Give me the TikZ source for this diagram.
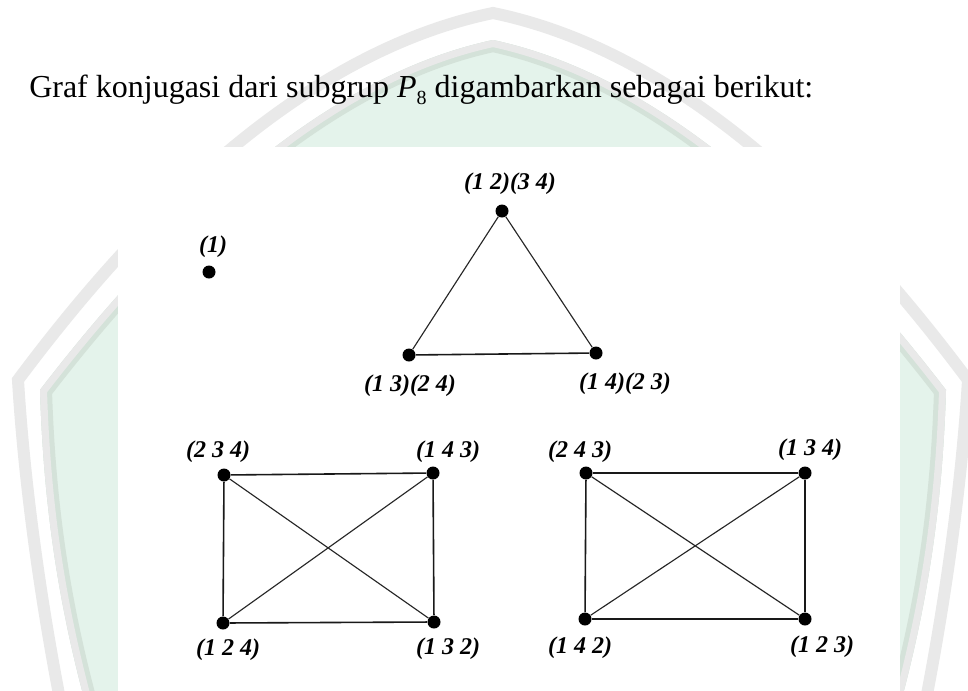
\documentclass[tikz,border=0pt]{standalone}
\usepackage{fontspec}
\setmainfont{Liberation Serif}
\definecolor{wmgrey}{RGB}{233,233,233}
\definecolor{wmgreen}{RGB}{228,243,235}
\definecolor{wmline}{RGB}{212,226,217}
\begin{document}
\begin{tikzpicture}[x=0.75pt,y=-0.75pt,
  dot/.style={circle,fill=black,inner sep=0pt,minimum size=9.75pt},
  lab/.style={font=\fontsize{18pt}{21pt}\selectfont\bfseries\itshape,inner sep=0pt},
  edge/.style={draw=black!85,line width=0.85pt},
  side/.style={draw=black!90,line width=1.2pt},
  title/.style={font=\fontsize{24pt}{28pt}\selectfont,inner sep=0pt,anchor=base west}]
\useasboundingbox (0,0) rectangle (968,690);
\fill[white] (0,0) rectangle (968,690);
% watermark
\draw[wmgrey,line width=9pt] (64,720) .. controls (40,600) and (24,480) .. (18,380)
  .. controls (176,168) and (334.7,45.7) .. (493,13)
  .. controls (651.3,45.7) and (810,168) .. (968,380)
  .. controls (962,480) and (946,600) .. (922,720);
\def\greenpath{(90,720) .. controls (62,620) and (44,520) .. (40,390)
  .. controls (195.3,188) and (346.7,71.3) .. (493,40)
  .. controls (639.3,71.3) and (790.7,188) .. (946,390)
  .. controls (942,520) and (924,620) .. (896,720) -- cycle}
\fill[wmgreen] \greenpath;
\begin{scope}
  \clip \greenpath;
  \draw[wmline,line width=18pt] \greenpath;
  \draw[wmgrey,line width=10.5pt] \greenpath;
\end{scope}
\fill[white] (118,147) rectangle (900,700);
% title
\node[title] (ttl) at (29,97) {Graf konjugasi dari subgrup \textit{P}\raisebox{-0.22em}{\fontsize{15pt}{15pt}\selectfont 8} digambarkan sebagai berikut:};
% dots
\node[dot] (n1) at (209,272) {};
\node[dot] (t1) at (502,211) {};
\node[dot] (t2) at (409,355) {};
\node[dot] (t3) at (596,353) {};
\node[dot] (a1) at (224,475) {};
\node[dot] (a2) at (433,473) {};
\node[dot] (a3) at (223,623) {};
\node[dot] (a4) at (434,622) {};
\node[dot] (b1) at (586,473) {};
\node[dot] (b2) at (805,473) {};
\node[dot] (b3) at (585,619) {};
\node[dot] (b4) at (805,619) {};
% labels
\node[lab] (ln1) at (213,247) {(1)};
\node[lab] (lt1) at (510,184) {(1 2)(3 4)};
\node[lab] (lt2) at (410,386) {(1 3)(2 4)};
\node[lab] (lt3) at (625,384) {(1 4)(2 3)};
\node[lab] (la1) at (218,452) {(2 3 4)};
\node[lab] (la2) at (448,452) {(1 4 3)};
\node[lab] (la3) at (228,650) {(1 2 4)};
\node[lab] (la4) at (448,649) {(1 3 2)};
\node[lab] (lb1) at (580,452) {(2 4 3)};
\node[lab] (lb2) at (810,450) {(1 3 4)};
\node[lab] (lb3) at (580,648) {(1 4 2)};
\node[lab] (lb4) at (822,647) {(1 2 3)};
% edges
\draw[edge] (t1) -- (t2);
\draw[edge] (t1) -- (t3);
\draw[side] (t2) -- (t3);
\draw[side] (a1) -- (a2);
\draw[side] (a1) -- (a3);
\draw[edge] (a1) -- (a4);
\draw[edge] (a2) -- (a3);
\draw[side] (a2) -- (a4);
\draw[side] (a3) -- (a4);
\draw[side] (b1) -- (b2);
\draw[side] (b1) -- (b3);
\draw[edge] (b1) -- (b4);
\draw[edge] (b2) -- (b3);
\draw[side] (b2) -- (b4);
\draw[side] (b3) -- (b4);
\end{tikzpicture}
\end{document}
